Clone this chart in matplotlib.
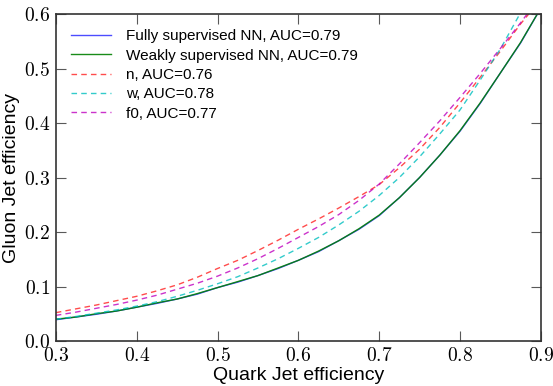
import matplotlib

matplotlib.use("Agg")
import matplotlib.pyplot as plt
from matplotlib.ticker import FuncFormatter, MultipleLocator

plt.rcParams["mathtext.fontset"] = "cm"
plt.rcParams["font.family"] = ["Liberation Sans", "DejaVu Sans"]

# quark jet efficiency grid for the NN curves
quark_eff = [0.300, 0.325, 0.350, 0.375, 0.400, 0.425, 0.450, 0.475, 0.500,
             0.525, 0.550, 0.575, 0.600, 0.625, 0.650, 0.675, 0.700, 0.725,
             0.750, 0.775, 0.800, 0.825, 0.850, 0.875, 0.900]

# gluon jet efficiency for each classifier
full_nn = [0.039, 0.044, 0.049, 0.055, 0.062, 0.069, 0.077, 0.086, 0.098,
           0.108, 0.120, 0.133, 0.148, 0.164, 0.184, 0.205, 0.230, 0.263,
           0.300, 0.341, 0.385, 0.436, 0.492, 0.547, 0.611]
weak_nn = [0.040, 0.044, 0.050, 0.055, 0.062, 0.070, 0.077, 0.087, 0.098,
           0.109, 0.120, 0.134, 0.148, 0.165, 0.184, 0.206, 0.231, 0.263,
           0.300, 0.341, 0.386, 0.437, 0.492, 0.548, 0.611]

n_x = [0.300, 0.325, 0.350, 0.375, 0.400, 0.425, 0.450, 0.475, 0.500,
       0.525, 0.550, 0.575, 0.600, 0.625, 0.650, 0.675, 0.700, 0.725,
       0.750, 0.775, 0.800, 0.825, 0.850, 0.875, 0.885]
n_y = [0.052, 0.059, 0.066, 0.074, 0.082, 0.092, 0.103, 0.117, 0.133,
       0.148, 0.166, 0.185, 0.205, 0.224, 0.244, 0.265, 0.287, 0.318,
       0.352, 0.392, 0.437, 0.484, 0.532, 0.582, 0.600]

w_x = [0.300, 0.325, 0.350, 0.375, 0.400, 0.425, 0.450, 0.475, 0.500,
       0.525, 0.550, 0.575, 0.600, 0.625, 0.650, 0.675, 0.700, 0.725,
       0.750, 0.775, 0.800, 0.825, 0.850, 0.874]
w_y = [0.040, 0.045, 0.051, 0.057, 0.064, 0.072, 0.082, 0.093, 0.105,
       0.118, 0.134, 0.151, 0.170, 0.190, 0.213, 0.238, 0.267, 0.300,
       0.338, 0.380, 0.424, 0.479, 0.536, 0.600]

f0_x = [0.300, 0.325, 0.350, 0.375, 0.400, 0.425, 0.450, 0.475, 0.500,
        0.525, 0.550, 0.575, 0.600, 0.625, 0.650, 0.675, 0.700, 0.725,
        0.750, 0.775, 0.800, 0.825, 0.850, 0.875, 0.883]
f0_y = [0.047, 0.053, 0.060, 0.067, 0.075, 0.084, 0.095, 0.106, 0.119,
        0.134, 0.151, 0.170, 0.190, 0.210, 0.232, 0.258, 0.288, 0.325,
        0.364, 0.404, 0.447, 0.491, 0.537, 0.584, 0.600]

labels = [
    "Fully supervised NN, AUC=0.79",
    "Weakly supervised NN, AUC=0.79",
    "n, AUC=0.76",
    "w, AUC=0.78",
    "f0, AUC=0.77",
]

fig = plt.figure(figsize=(5.53, 3.86), dpi=100)
ax = fig.add_axes([0.101, 0.1166, 0.877, 0.847])

dash = (4, 3)
ax.plot(quark_eff, full_nn, color="b", lw=1.0, alpha=0.7, label=labels[0])
ax.plot(quark_eff, weak_nn, color="g", lw=1.0, alpha=0.9, label=labels[1])
ax.plot(n_x, n_y, color="r", lw=1.0, alpha=0.7, dashes=dash, label=labels[2])
ax.plot(w_x, w_y, color="c", lw=1.0, alpha=0.8, dashes=dash, label=labels[3])
ax.plot(f0_x, f0_y, color="m", lw=1.0, alpha=0.8, dashes=dash, label=labels[4])

ax.set_xlim(0.3, 0.9)
ax.set_ylim(0.0, 0.6)
ax.xaxis.set_major_locator(MultipleLocator(0.1))
ax.yaxis.set_major_locator(MultipleLocator(0.1))
fmt = FuncFormatter(lambda v, pos: r"$%.1f$" % v)
ax.xaxis.set_major_formatter(fmt)
ax.yaxis.set_major_formatter(fmt)
ax.tick_params(direction="in", top=True, right=True, length=7, width=0.8,
               labelsize=14, pad=4, color="0.35")
for sp in ax.spines.values():
    sp.set_linewidth(1.2)
    sp.set_color("0.2")

ax.set_xlabel("Quark Jet efficiency", fontsize=14, labelpad=2)
ax.set_ylabel("Gluon Jet efficiency", fontsize=14, labelpad=3)

ax.legend(loc="upper left", frameon=False, fontsize=11, handlelength=2.6,
          handletextpad=1.0, labelspacing=0.35, borderaxespad=0.6)

fig.savefig("out.png", dpi=100)
